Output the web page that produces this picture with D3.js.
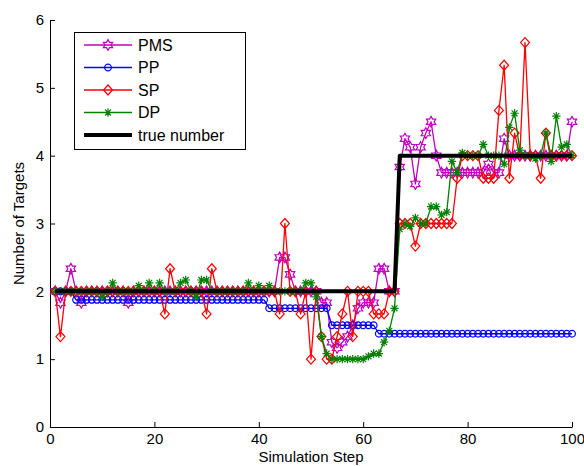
<!DOCTYPE html>
<html>
<head>
<meta charset="utf-8">
<script src="https://cdn.jsdelivr.net/npm/d3@7"></script>
<style>
body { margin: 0; background: #fff; }
svg { display: block; font-family: "Liberation Sans", Arial, sans-serif; }
</style>
</head>
<body>
<svg id="chart" width="584" height="466"></svg>
<script>
// simulation steps 1..100
const steps = d3.range(1, 101);

const pmsValues = [
	2, 1.833, 2, 2.333, 2, 1.833, 2, 2, 2, 2,
	2, 2, 2, 2, 1.833, 2, 2, 2, 2, 2,
	2, 2, 2, 2, 2, 2, 2, 2, 2, 2,
	2, 2, 2, 2, 2, 2, 2, 2, 2, 2,
	2, 2, 2, 2.5, 2.5, 2.25, 2, 2, 2, 2,
	2, 1.833, 1.833, 1.25, 1.167, 1.25, 1.333, 1.5, 1.75, 1.833,
	1.833, 1.833, 2.333, 2.333, 2, 2, 3.833, 4.25, 4.125, 3.583,
	4.125, 4.333, 4.5, 4, 3.75, 3.75, 3.75, 3.75, 3.75, 3.75,
	3.75, 3.75, 3.75, 3.875, 3.75, 3.75, 4.25, 4, 4, 4,
	4, 4, 4, 4, 4, 4, 4, 4, 4, 4.5
];

const ppValues = [
	2, 2, 2, 2, 1.875, 1.875, 1.875, 1.875, 1.875, 1.875,
	1.875, 1.875, 1.875, 1.875, 1.875, 1.875, 1.875, 1.875, 1.875, 1.875,
	1.875, 1.875, 1.875, 1.875, 1.875, 1.875, 1.875, 1.875, 1.875, 1.875,
	1.875, 1.875, 1.875, 1.875, 1.875, 1.875, 1.875, 1.875, 1.875, 1.875,
	1.875, 1.75, 1.75, 1.75, 1.75, 1.75, 1.75, 1.75, 1.75, 1.75,
	1.75, 1.75, 1.75, 1.5, 1.5, 1.5, 1.5, 1.5, 1.5, 1.5,
	1.5, 1.5, 1.375, 1.375, 1.375, 1.375, 1.375, 1.375, 1.375, 1.375,
	1.375, 1.375, 1.375, 1.375, 1.375, 1.375, 1.375, 1.375, 1.375, 1.375,
	1.375, 1.375, 1.375, 1.375, 1.375, 1.375, 1.375, 1.375, 1.375, 1.375,
	1.375, 1.375, 1.375, 1.375, 1.375, 1.375, 1.375, 1.375, 1.375, 1.375
];

const spValues = [
	2, 1.333, 2, 2, 2, 2, 2, 2, 2, 2,
	2, 2, 2, 2, 2, 2, 2, 2, 2, 2,
	2, 1.667, 2.333, 2, 2, 2, 2, 2, 2, 1.667,
	2.333, 2, 2, 2, 2, 2, 2, 2, 2, 2,
	2, 2, 2, 1.667, 3, 2, 2, 1.667, 2, 1,
	2, 1.333, 1, 1, 1.333, 1.667, 2, 1.333, 2, 2,
	2, 1.667, 1.667, 1.667, 2, 2, 3, 3, 3, 2.667,
	3, 3, 3, 3, 3, 3, 3, 3.667, 4, 4,
	4, 4, 3.667, 3.667, 3.667, 4.667, 5.333, 3.667, 4.333, 4,
	5.667, 4, 4, 3.667, 4.333, 4, 4, 4, 4, 4
];

const dpValues = [
	2, 2, 2, 2, 2, 2, 2, 2, 2, 1.917,
	2, 2.125, 2, 2, 2, 2, 2.083, 2, 2.125, 2,
	2.125, 2, 2, 2, 2.125, 2.167, 2, 1.917, 2.167, 2.167,
	2, 2, 2, 2, 2, 2, 2, 2.125, 2, 2.083,
	2, 2.083, 2, 2, 2, 2, 2, 2, 2.125, 2.125,
	1.917, 1.333, 1.083, 1, 1, 1, 1, 1, 1, 1,
	1.042, 1.083, 1.083, 1.25, 1.417, 1.75, 2.917, 3, 2.958, 3.083,
	3, 3, 3.25, 3.25, 3.125, 3.167, 3.917, 3.75, 4.042, 4,
	4, 4, 4.167, 4, 4, 4, 3.875, 4.417, 4.625, 4.083,
	4, 4, 3.958, 4, 4.333, 3.917, 4.583, 4.125, 4.167, 4
];

const trueValues = [
	2, 2, 2, 2, 2, 2, 2, 2, 2, 2,
	2, 2, 2, 2, 2, 2, 2, 2, 2, 2,
	2, 2, 2, 2, 2, 2, 2, 2, 2, 2,
	2, 2, 2, 2, 2, 2, 2, 2, 2, 2,
	2, 2, 2, 2, 2, 2, 2, 2, 2, 2,
	2, 2, 2, 2, 2, 2, 2, 2, 2, 2,
	2, 2, 2, 2, 2, 2, 4, 4, 4, 4,
	4, 4, 4, 4, 4, 4, 4, 4, 4, 4,
	4, 4, 4, 4, 4, 4, 4, 4, 4, 4,
	4, 4, 4, 4, 4, 4, 4, 4, 4, 4
];

const seriesNames = ["PMS", "PP", "SP", "DP", "true number"];
const xTicks = [0, 20, 40, 60, 80, 100];
const yTicks = [0, 1, 2, 3, 4, 5, 6];

// six-pointed star (matlab 'hexagram')
const symbolHexagram = {
	draw: function(context, size){
		const R = Math.sqrt(size) * 0.62;
		const r = R / Math.sqrt(3);
		for (let k = 0; k < 12; k++) {
			const a = -Math.PI / 2 + k * Math.PI / 6;
			const rr = k % 2 === 0 ? R : r;
			if (k === 0) context.moveTo(rr * Math.cos(a), rr * Math.sin(a));
			else context.lineTo(rr * Math.cos(a), rr * Math.sin(a));
		}
		context.closePath();
	}
};

// '*' marker: plus and cross together
const symbolAsterisk = {
	draw: function(context, size){
		const R = Math.sqrt(size) * 0.5;
		for (let k = 0; k < 4; k++) {
			const a = k * Math.PI / 4;
			context.moveTo(-R * Math.cos(a), -R * Math.sin(a));
			context.lineTo(R * Math.cos(a), R * Math.sin(a));
		}
	}
};

// matlab diamond is a bit taller than wide
const symbolTallDiamond = {
	draw: function(context, size){
		const w = Math.sqrt(size) * 0.5;
		const h = w * 1.12;
		context.moveTo(0, -h);
		context.lineTo(w, 0);
		context.lineTo(0, h);
		context.lineTo(-w, 0);
		context.closePath();
	}
};

chart = {

	margin: {left: 50, right: 12, top: 20, bottom: 39},

	init: function(){
		const me = chart;

		me.svg = d3.select("#chart");
		me.width = +me.svg.attr("width");
		me.height = +me.svg.attr("height");

		me.x = d3.scaleLinear().domain([0, 100]).range([me.margin.left, me.width - me.margin.right]);
		me.y = d3.scaleLinear().domain([0, 6]).range([me.height - me.margin.bottom, me.margin.top]);

		me.series = [
			{name: seriesNames[0], values: pmsValues, color: "#bf00bf", symbol: symbolHexagram, size: 75, width: 1.3},
			{name: seriesNames[1], values: ppValues, color: "#0000ff", symbol: d3.symbolCircle, size: 36, width: 1.3},
			{name: seriesNames[2], values: spValues, color: "#ff0000", symbol: symbolTallDiamond, size: 80, width: 1.3},
			{name: seriesNames[3], values: dpValues, color: "#008000", symbol: symbolAsterisk, size: 70, width: 1.3},
			{name: seriesNames[4], values: trueValues, color: "#000000", symbol: null, width: 4}
		];

		me.drawAxes();
		me.drawSeries();
		me.drawLegend();
	},

	drawAxes: function(){
		const me = chart;

		const xAxis = d3.axisBottom(me.x)
			.tickValues(xTicks)
			.tickFormat(d3.format("d"))
			.tickSizeInner(-5)
			.tickSizeOuter(0)
			.tickPadding(6);

		const yAxis = d3.axisLeft(me.y)
			.tickValues(yTicks)
			.tickFormat(d3.format("d"))
			.tickSizeInner(-5)
			.tickSizeOuter(0)
			.tickPadding(6);

		const gx = me.svg.append("g")
			.attr("transform", "translate(0," + me.y(0) + ")")
			.call(xAxis);

		const gy = me.svg.append("g")
			.attr("transform", "translate(" + me.x(0) + ",0)")
			.call(yAxis);

		[gx, gy].forEach(function(g){
			g.selectAll("path, line").attr("stroke", "#000").attr("stroke-width", 1);
			g.selectAll("text").attr("font-size", 15).attr("fill", "#000")
				.attr("font-family", "'Liberation Sans', Arial, sans-serif");
		});

		me.svg.append("text")
			.attr("x", (me.x(0) + me.x(100)) / 2)
			.attr("y", 462)
			.attr("text-anchor", "middle")
			.attr("font-size", 15)
			.text("Simulation Step");

		me.svg.append("text")
			.attr("transform", "translate(24," + (me.y(0) + me.y(6)) / 2 + ") rotate(-90)")
			.attr("text-anchor", "middle")
			.attr("font-size", 15)
			.text("Number of Targets");
	},

	drawSeries: function(){
		const me = chart;

		const line = d3.line()
			.x(function(d, i){ return me.x(steps[i]); })
			.y(function(d){ return me.y(d); });

		me.series.forEach(function(s){
			const g = me.svg.append("g");

			g.append("path")
				.datum(s.values)
				.attr("fill", "none")
				.attr("stroke", s.color)
				.attr("stroke-width", s.width)
				.attr("stroke-linejoin", "round")
				.attr("d", line);

			if (!s.symbol) return;

			const sym = d3.symbol().type(s.symbol).size(s.size);
			g.selectAll("path.marker")
				.data(s.values)
				.join("path")
				.attr("class", "marker")
				.attr("transform", function(d, i){ return "translate(" + me.x(steps[i]) + "," + me.y(d) + ")"; })
				.attr("d", sym)
				.attr("fill", "none")
				.attr("stroke", s.color)
				.attr("stroke-width", 1.2);
		});
	},

	drawLegend: function(){
		const me = chart;

		const lg = me.svg.append("g");
		lg.append("rect")
			.attr("x", 74.5).attr("y", 32.5)
			.attr("width", 171).attr("height", 117)
			.attr("fill", "#fff")
			.attr("stroke", "#000")
			.attr("stroke-width", 1);

		const rowY = d3.scalePoint().domain(seriesNames).range([45, 135]);

		me.series.forEach(function(s){
			const yy = rowY(s.name);
			lg.append("line")
				.attr("x1", 84).attr("x2", 132)
				.attr("y1", yy).attr("y2", yy)
				.attr("stroke", s.color)
				.attr("stroke-width", s.width);
			if (s.symbol) {
				lg.append("path")
					.attr("transform", "translate(108," + yy + ")")
					.attr("d", d3.symbol().type(s.symbol).size(s.size)())
					.attr("fill", "none")
					.attr("stroke", s.color)
					.attr("stroke-width", 1.2);
			}
			lg.append("text")
				.attr("x", 138)
				.attr("y", yy)
				.attr("dy", "0.35em")
				.attr("font-size", 16)
				.text(s.name);
		});
	}
}

chart.init();
</script>
</body>
</html>
